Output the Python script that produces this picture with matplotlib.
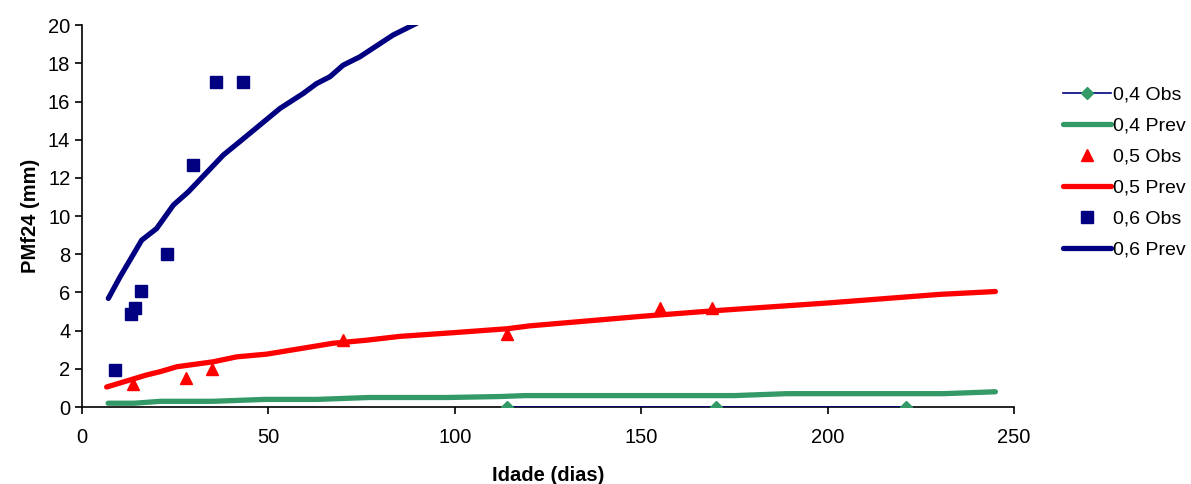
import matplotlib.pyplot as plt

plt.rcParams['font.family'] = ['Liberation Sans', 'DejaVu Sans']

# 0,4 series
obs04_x = [114, 170, 221]
obs04_y = [0, 0, 0]
prev04_x = [7, 14, 21, 35, 49, 63, 77, 98, 112, 119, 175, 189, 231, 245]
prev04_y = [0.2, 0.2, 0.3, 0.3, 0.4, 0.4, 0.5, 0.5, 0.55, 0.6, 0.6, 0.7, 0.7, 0.8]

# 0,5 series
obs05_x = [13.7, 27.9, 34.8, 69.9, 113.9, 155.1, 169.1]
obs05_y = [1.2, 1.5, 2.0, 3.5, 3.8, 5.2, 5.2]
prev05_x = [6.6, 17.3, 20.9, 25.4, 35.2, 41.5, 49.5, 67.3, 76.3, 85.2, 100, 114, 120, 150, 170, 200, 230, 245]
prev05_y = [1.05, 1.68, 1.85, 2.11, 2.37, 2.63, 2.77, 3.34, 3.5, 3.7, 3.9, 4.1, 4.25, 4.75, 5.05, 5.45, 5.9, 6.05]

# 0,6 series
obs06_x = [8.8, 13.1, 14.2, 15.8, 22.8, 29.7, 35.9, 43.1]
obs06_y = [1.94, 4.87, 5.18, 6.1, 8.0, 12.7, 17.0, 17.0]
prev06_x = [7.05, 10.2, 16.0, 20.0, 24.5, 28.5, 37.9, 42.3, 53.1, 59.3, 62.9, 66.5, 70.0, 74.5, 83.4, 92.3, 100, 110]
prev06_y = [5.69, 6.82, 8.74, 9.35, 10.58, 11.27, 13.2, 13.9, 15.64, 16.42, 16.94, 17.3, 17.9, 18.34, 19.48, 20.35, 21.1, 22.0]

navy = '#000080'
green = '#339966'
red = '#ff0000'

fig = plt.figure(figsize=(11.91, 4.84), dpi=100)
ax = fig.add_axes([0.0689, 0.159, 0.7825, 0.789])

ax.plot(obs04_x, obs04_y, color=navy, lw=1.2, marker='D', markersize=6.5,
        markerfacecolor=green, markeredgecolor=green, label='0,4 Obs', zorder=4)
ax.plot(prev04_x, prev04_y, color=green, lw=3.8, solid_capstyle='round', label='0,4 Prev')
ax.plot(obs05_x, obs05_y, ls='none', marker='^', markersize=8, color=red, label='0,5 Obs')
ax.plot(prev05_x, prev05_y, color=red, lw=3.8, solid_capstyle='round', label='0,5 Prev')
ax.plot(obs06_x, obs06_y, ls='none', marker='s', markersize=8, color=navy, label='0,6 Obs')
ax.plot(prev06_x, prev06_y, color=navy, lw=3.8, solid_capstyle='round', label='0,6 Prev')

ax.set_xlim(0, 250)
ax.set_ylim(0, 20)
ax.set_xticks(range(0, 251, 50))
ax.set_yticks(range(0, 21, 2))
ax.spines['top'].set_visible(False)
ax.spines['right'].set_visible(False)
ax.spines['left'].set_linewidth(1.2)
ax.spines['bottom'].set_linewidth(1.2)
ax.tick_params(direction='out', length=5, width=1.2, labelsize=14.5)
ax.tick_params(axis='x', pad=10)
ax.set_xlabel('Idade (dias)', fontsize=14.5, fontweight='bold', labelpad=14)
ax.set_ylabel('PMf24 (mm)', fontsize=14.5, fontweight='bold', labelpad=6)

fig.legend(loc='upper left', bbox_to_anchor=(1055 / 1191, 1 - 78 / 484), frameon=False,
           fontsize=14, handlelength=2.5, handletextpad=0.1, labelspacing=0.69,
           borderaxespad=0)

fig.savefig('out.png', dpi=100)
